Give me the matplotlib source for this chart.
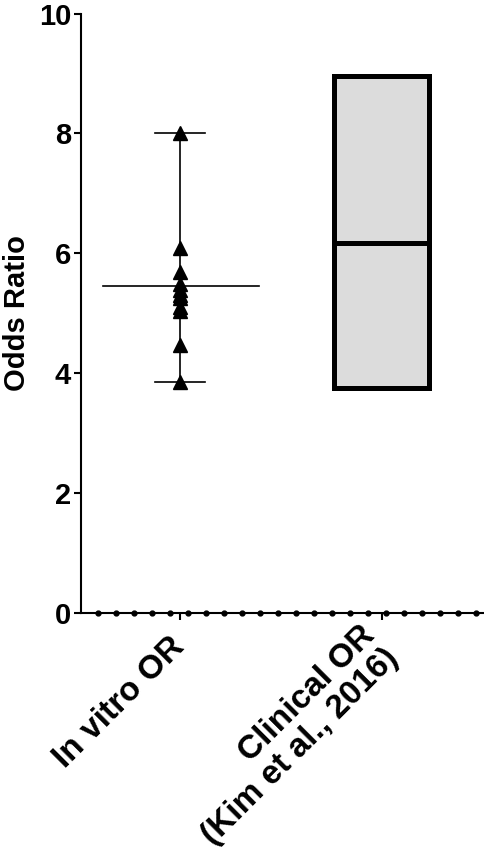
# In vitro vs clinical odds ratio
import numpy as np
import matplotlib.pyplot as plt

plt.rcParams['font.family'] = ['Liberation Sans', 'DejaVu Sans']

categories = ["In vitro OR", "Clinical OR\n(Kim et al., 2016)"]

# individual in vitro odds ratios
invitro_or = [8.01, 6.09, 5.68, 5.48, 5.39, 5.31, 5.26, 5.11, 5.03, 4.47, 3.86]
invitro_mean = 5.46

# clinical OR with 95% CI
clinical_or = 6.18
clinical_low = 3.76
clinical_high = 8.96

fig = plt.figure(figsize=(4.84, 8.5), dpi=100)
ax = fig.add_axes([0.167, 0.279, 0.831, 0.705])

# in vitro: points, range line, mean line and caps
ax.plot([0, 0], [min(invitro_or), max(invitro_or)], color='black', lw=1.2, zorder=2)
ax.plot([0] * len(invitro_or), invitro_or, linestyle='none', marker='^',
        markersize=10, color='black', zorder=3)
ax.plot([-0.38, 0.39], [invitro_mean, invitro_mean], color='black', lw=1.2)
for v in [min(invitro_or), max(invitro_or)]:
    ax.plot([-0.125, 0.125], [v, v], color='black', lw=1.2)

# clinical: floating box with median line
ax.bar(1, clinical_high - clinical_low, bottom=clinical_low, width=0.47,
       color='#dcdcdc', edgecolor='black', linewidth=3.6, zorder=2)
ax.plot([1 - 0.235, 1 + 0.235], [clinical_or, clinical_or], color='black', lw=3.6, zorder=3)

ax.set_xlim(-0.49, 1.5)
ax.set_ylim(0, 10)
ax.set_yticks([0, 2, 4, 6, 8, 10])
ax.set_xticks([0, 1])
ax.set_xticklabels(categories, rotation=45, ha='right', va='center', rotation_mode='anchor',
                   multialignment='right', linespacing=1.05, fontsize=24, fontweight='bold')
ax.tick_params(axis='y', labelsize=21, width=1.5, length=5, pad=2)
ax.tick_params(axis='x', width=1.5, length=5, pad=16)
for lbl in ax.get_yticklabels():
    lbl.set_fontweight('bold')
ax.set_ylabel("Odds Ratio", fontsize=21, fontweight='bold', va='center')
ax.yaxis.set_label_coords(-0.158, 0.5)

ax.spines['top'].set_visible(False)
ax.spines['right'].set_visible(False)
ax.spines['left'].set_linewidth(1.5)
ax.spines['bottom'].set_linewidth(1.5)

# dotted decoration along the x axis
dots = np.arange(-0.403, 1.49, 0.089)
ax.plot(dots, np.zeros_like(dots), linestyle='none', marker='o', markersize=3.5,
        color='black', clip_on=False, zorder=4)

fig.savefig("out.png", dpi=100)
